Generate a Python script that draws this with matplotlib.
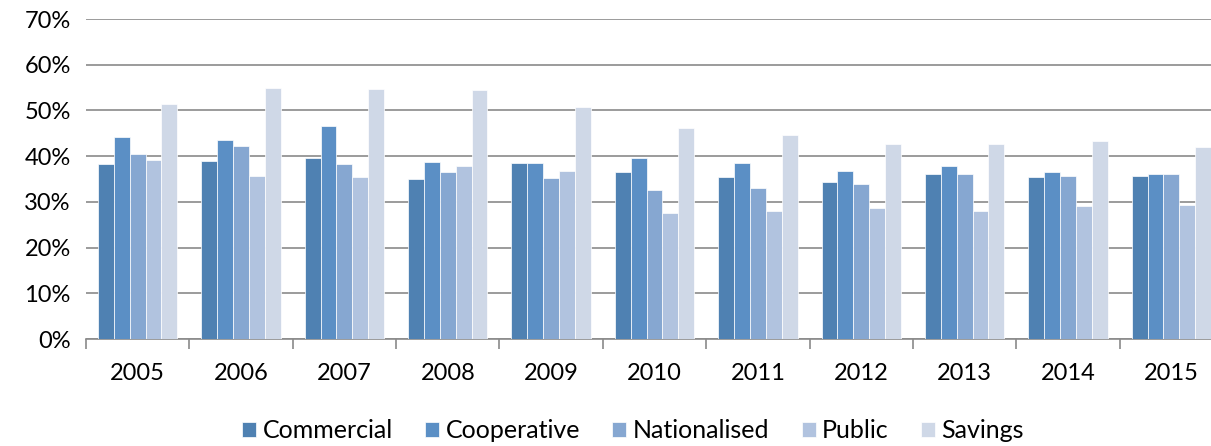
import numpy as np
import matplotlib.pyplot as plt
from matplotlib.ticker import FixedLocator, PercentFormatter

years = ["2005", "2006", "2007", "2008", "2009", "2010", "2011", "2012", "2013", "2014", "2015"]
commercial = [38.2, 38.9, 39.5, 34.9, 38.5, 36.6, 35.4, 34.4, 36.0, 35.5, 35.7]
cooperative = [44.1, 43.5, 46.5, 38.7, 38.4, 39.7, 38.4, 36.7, 37.9, 36.5, 36.0]
nationalised = [40.4, 42.2, 38.2, 36.5, 35.3, 32.6, 33.0, 34.0, 36.1, 35.7, 36.0]
public = [39.1, 35.7, 35.4, 37.8, 36.8, 27.5, 28.0, 28.6, 27.9, 29.0, 29.3]
savings = [51.4, 54.8, 54.6, 54.4, 50.8, 46.2, 44.6, 42.6, 42.7, 43.3, 42.0]

series = {
    "Commercial": commercial,
    "Cooperative": cooperative,
    "Nationalised": nationalised,
    "Public": public,
    "Savings": savings,
}
colors = ["#4F81B2", "#5B8FC5", "#86A7D1", "#B1C3DF", "#CFD8E7"]

plt.rcParams["font.family"] = ["Lato", "DejaVu Sans"]

fig = plt.figure(figsize=(12.11, 4.46), dpi=100)
# plot area runs slightly past the right edge, like the cropped original
ax = fig.add_axes([86 / 1211, 1 - 339 / 446, 1137 / 1211, 320 / 446])

x = np.arange(len(years))
bw = 0.768 / 5
for i, (name, vals) in enumerate(series.items()):
    ax.bar(x - 0.384 + bw * (i + 0.5), vals, width=bw, color=colors[i],
           edgecolor="white", linewidth=0.5, label=name, zorder=3)

ax.set_xlim(-0.5, len(years) - 0.5)
ax.set_ylim(0, 70)
ax.set_yticks(range(0, 71, 10))
ax.yaxis.set_major_formatter(PercentFormatter(decimals=0))
ax.grid(axis="y", color="#8a8a8a", linewidth=1.2, zorder=0)

ax.set_xticks(x)
ax.set_xticklabels(years)
ax.xaxis.set_minor_locator(FixedLocator(np.arange(-0.5, len(years), 1)))
ax.tick_params(axis="x", which="major", length=0, pad=17, labelsize=17)
ax.tick_params(axis="x", which="minor", length=7, width=1.2, color="#8a8a8a", direction="out")
ax.tick_params(axis="y", length=0, pad=11, labelsize=17)

for s in ["top", "right", "left"]:
    ax.spines[s].set_visible(False)
ax.spines["bottom"].set_color("#8a8a8a")
ax.spines["bottom"].set_linewidth(1.2)

fig.legend(loc="center", bbox_to_anchor=(633 / 1211, 1 - 431 / 446), ncol=5,
           frameon=False, fontsize=18, handlelength=0.56, handleheight=0.56,
           handletextpad=0.25, columnspacing=1.3)

fig.savefig("out.png", dpi=100)
